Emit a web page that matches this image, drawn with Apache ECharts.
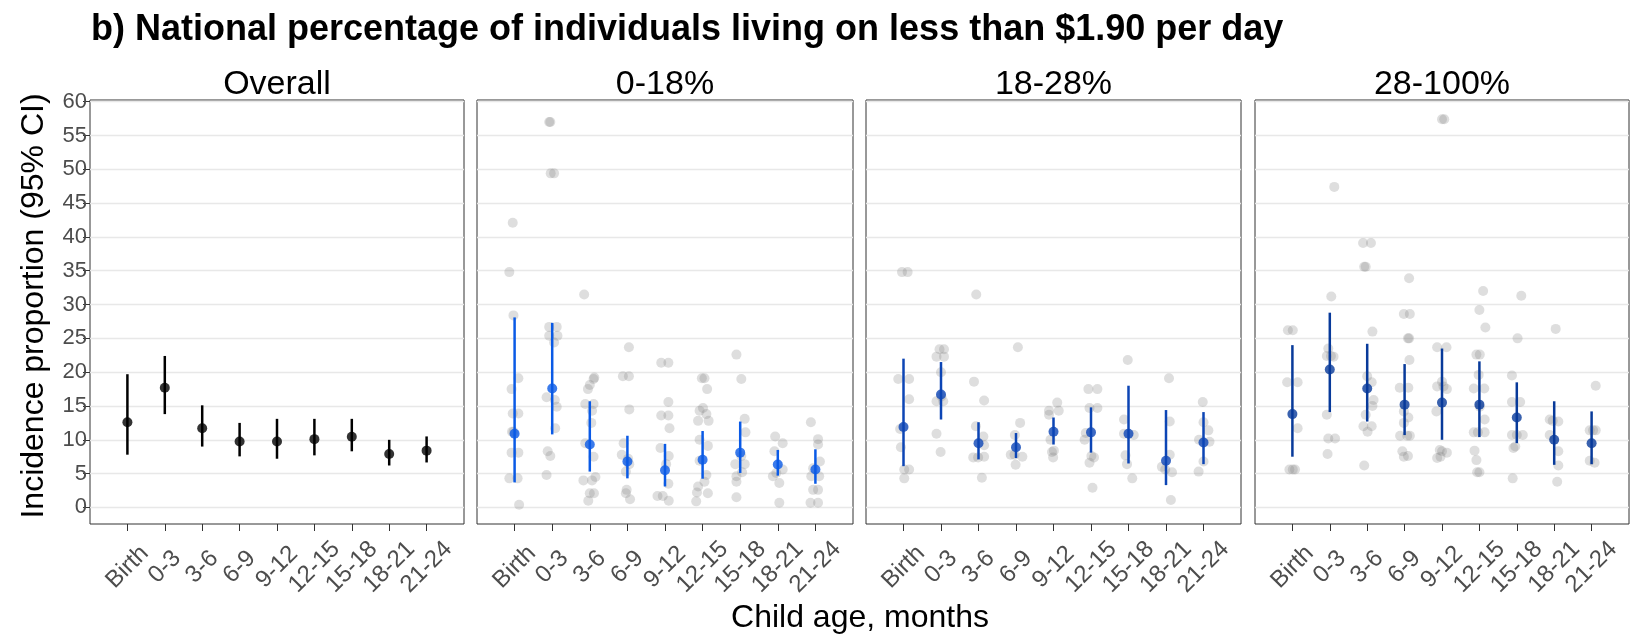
<!DOCTYPE html>
<html><head><meta charset="utf-8">
<script src="https://cdn.jsdelivr.net/npm/echarts@6/dist/echarts.min.js"></script>
<style>html,body{margin:0;padding:0;background:#fff}#c{width:1639px;height:636px}</style>
</head><body><div id="c"></div>
<script>
// ---------- data ----------
const categories = ['Birth','0-3','3-6','6-9','9-12','12-15','15-18','18-21','21-24'];
const panelTitles = ['Overall','0-18%','18-28%','28-100%'];
const yTickValues = [0,5,10,15,20,25,30,35,40,45,50,55,60];

const overallMean = [12.6, 17.7, 11.7, 9.75, 9.75, 10.1, 10.45, 7.9, 8.4];
const overallLow  = [7.8, 13.8, 9.0, 7.55, 7.2, 7.7, 8.3, 6.2, 6.65];
const overallHigh = [19.7, 22.4, 15.1, 12.5, 13.1, 13.1, 13.1, 10.0, 10.5];

const low18Mean = [10.9, 17.6, 9.3, 6.8, 5.5, 7.05, 8.1, 6.35, 5.6];
const low18Low  = [3.7, 10.8, 5.3, 4.3, 3.1, 4.25, 5.1, 4.7, 3.5];
const low18High = [28.1, 27.3, 15.7, 10.6, 9.4, 11.3, 12.7, 8.5, 8.6];

const mid28Mean = [11.9, 16.7, 9.5, 8.9, 11.2, 11.1, 10.9, 6.9, 9.6];
const mid28Low  = [6.1, 13.0, 7.1, 7.3, 9.3, 8.1, 6.5, 3.3, 6.4];
const mid28High = [22.0, 21.5, 12.6, 11.0, 13.3, 14.8, 18.0, 14.4, 14.1];

const high100Mean = [13.8, 20.4, 17.6, 15.2, 15.5, 15.2, 13.3, 10.0, 9.5];
const high100Low  = [7.5, 14.1, 12.7, 10.7, 10.0, 10.4, 9.5, 6.3, 6.4];
const high100High = [24.0, 28.8, 24.2, 21.2, 23.5, 21.6, 18.5, 15.7, 14.2];

// study-level estimates: [category index, jitter (category units), value]
const low18Points = [
 [0,-0.05,42.1],[0,-0.14,34.8],[0,-0.03,28.4],[0,0.10,19.1],[0,-0.08,17.5],[0,-0.05,13.9],[0,0.10,13.9],[0,-0.07,11.2],[0,-0.03,11.2],[0,-0.08,8.1],[0,0.10,8.1],[0,-0.14,4.3],[0,0.08,4.3],[0,0.12,0.4],
 [1,-0.08,57.0],[1,-0.05,57.0],[1,-0.04,49.4],[1,0.05,49.4],[1,-0.08,26.7],[1,0.12,26.7],[1,-0.08,25.4],[1,0.14,25.4],[1,0.05,24.4],[1,-0.15,16.3],[1,0.07,15.9],[1,0.12,14.9],[1,0.08,11.7],[1,-0.12,8.3],[1,-0.05,7.6],[1,-0.15,4.8],
 [2,-0.15,31.5],[2,0.12,19.2],[2,0.10,19.0],[2,0,18.1],[2,-0.05,17.5],[2,-0.12,15.3],[2,0.10,15.3],[2,0.06,14.3],[2,0.04,12.5],[2,-0.12,9.5],[2,0.10,7.5],[2,0.15,4.5],[2,0.06,4.0],[2,-0.17,4.0],[2,0,2.1],[2,0.11,2.1],[2,-0.04,1.0],
 [3,0.04,23.7],[3,-0.12,19.4],[3,0.04,19.4],[3,0.05,14.5],[3,-0.10,9.5],[3,-0.15,7.8],[3,0.05,6.4],[3,-0.04,5.3],[3,0.02,7.2],[3,-0.02,2.6],[3,-0.04,2.1],[3,0.07,1.2],
 [4,-0.10,21.4],[4,0.09,21.4],[4,0.09,15.6],[4,-0.10,13.6],[4,0.09,13.6],[4,0.12,11.7],[4,-0.12,8.8],[4,0.10,7.6],[4,0.03,6.4],[4,0.09,3.5],[4,-0.20,1.7],[4,-0.06,1.7],[4,0.10,1.0],
 [5,-0.02,19.1],[5,0.05,19.1],[5,0.12,17.5],[5,0.01,14.7],[5,-0.08,14.3],[5,0.10,13.8],[5,-0.12,12.8],[5,0.16,12.8],[5,-0.08,10.0],[5,0.14,9.1],[5,-0.08,6.9],[5,0.10,4.8],[5,0.05,3.8],[5,-0.12,3.1],[5,-0.15,2.2],[5,0.14,2.1],[5,-0.17,0.9],
 [6,-0.10,22.6],[6,0.03,19.0],[6,0.12,13.1],[6,0.14,11.1],[6,0.03,7.6],[6,-0.13,6.4],[6,0.12,6.4],[6,0.05,5.2],[6,-0.10,4.6],[6,-0.10,3.8],[6,-0.10,1.5],
 [7,-0.07,10.5],[7,0.13,9.5],[7,-0.09,8.3],[7,0.13,5.6],[7,-0.04,5.1],[7,-0.13,4.6],[7,0.04,3.6],[7,0.04,0.7],
 [8,-0.12,12.6],[8,0.07,10.1],[8,0.07,9.3],[8,0.12,6.8],[8,-0.06,5.8],[8,0.10,4.6],[8,-0.11,4.6],[8,0.07,2.6],[8,-0.06,2.6],[8,-0.13,0.7],[8,0.07,0.7]
];
const mid28Points = [
 [0,-0.04,34.8],[0,0.11,34.8],[0,-0.14,19.0],[0,0.15,19.0],[0,0.15,16.0],[0,-0.09,11.6],[0,-0.07,8.9],[0,0.02,5.6],[0,0.15,5.6],[0,0.02,4.3],
 [1,-0.04,23.4],[1,0.08,23.4],[1,-0.12,22.3],[1,0.08,22.3],[1,0,20.0],[1,-0.12,15.7],[1,0.01,16.4],[1,0.06,15.7],[1,-0.12,10.9],[1,-0.01,8.2],
 [2,-0.06,31.5],[2,-0.12,18.6],[2,0.15,15.8],[2,-0.07,12.0],[2,0.13,10.5],[2,0.15,9.2],[2,-0.14,7.4],[2,-0.01,7.4],[2,0.15,7.5],[2,0.09,4.4],
 [3,0.05,23.7],[3,0.11,12.5],[3,-0.03,10.7],[3,-0.14,7.8],[3,-0.04,7.8],[3,0.17,7.5],[3,-0.01,6.3],
 [4,0.10,15.5],[4,-0.12,14.3],[4,0.14,14.3],[4,-0.12,13.7],[4,-0.08,10.0],[4,0.01,8.4],[4,-0.04,8.2],[4,-0.01,7.4],
 [5,-0.07,17.5],[5,0.17,17.5],[5,-0.04,14.7],[5,0.17,14.7],[5,-0.14,11.0],[5,-0.17,10.0],[5,0.01,7.6],[5,0.08,7.4],[5,-0.04,6.6],[5,0.04,2.9],
 [6,-0.02,21.8],[6,-0.12,13.0],[6,-0.12,10.9],[6,0.14,10.7],[6,-0.08,7.7],[6,-0.04,6.4],[6,0.10,4.3],
 [7,0.08,19.1],[7,0.10,12.7],[7,0.10,7.8],[7,-0.11,6.0],[7,0.16,5.2],[7,-0.02,5.6],[7,0.13,1.1],
 [8,-0.02,15.6],[8,0,12.6],[8,0.13,11.4],[8,-0.12,10.0],[8,0.16,9.7],[8,0,6.8],[8,-0.13,5.3]
];
const high100Points = [
 [0,-0.12,26.2],[0,0.01,26.2],[0,-0.14,18.5],[0,0.14,18.5],[0,0.14,11.7],[0,-0.08,5.6],[0,0.01,5.6],[0,0.07,5.6],
 [1,0.12,47.4],[1,0.04,31.2],[1,-0.04,23.5],[1,0.03,22.4],[1,-0.08,22.4],[1,0.10,22.3],[1,-0.08,13.7],[1,-0.04,10.2],[1,0.14,10.2],[1,-0.06,7.9],
 [2,-0.11,39.1],[2,0.10,39.1],[2,-0.08,35.6],[2,-0.04,35.6],[2,0.14,26.0],[2,0,19.4],[2,0.12,18.5],[2,0.17,15.9],[2,0.14,15.0],[2,-0.04,13.7],[2,-0.10,12.0],[2,0.12,12.0],[2,0.01,11.2],[2,-0.08,6.2],
 [3,0.12,33.9],[3,-0.02,28.6],[3,0.14,28.6],[3,0.09,25.0],[3,0.12,25.0],[3,0.13,21.8],[3,-0.13,17.7],[3,0.10,17.7],[3,-0.02,14.2],[3,0.10,13.3],[3,-0.02,12.5],[3,-0.12,10.6],[3,0.07,10.6],[3,0.14,10.6],[3,-0.06,8.3],[3,0.09,7.6],[3,-0.02,7.5],
 [4,0,57.4],[4,0.06,57.4],[4,-0.13,23.7],[4,0.12,23.7],[4,0,18.6],[4,0.04,17.9],[4,-0.13,17.9],[4,0.13,17.5],[4,-0.15,14.2],[4,-0.06,8.5],[4,0,8.3],[4,0.13,8.1],[4,-0.13,7.3],[4,-0.04,7.5],
 [5,0.10,32.0],[5,0,29.2],[5,0.16,26.6],[5,-0.08,22.6],[5,0.01,22.6],[5,-0.02,19.6],[5,-0.15,17.6],[5,0.13,17.6],[5,0.01,14.9],[5,0.14,13.0],[5,-0.15,11.1],[5,-0.04,11.1],[5,0.14,11.1],[5,-0.13,8.4],[5,-0.08,7.0],[5,-0.06,5.2],[5,0,5.2],
 [6,0.12,31.3],[6,0.02,25.0],[6,-0.13,19.5],[6,0.09,15.6],[6,-0.13,15.6],[6,-0.13,10.7],[6,0,10.7],[6,0.16,10.7],[6,-0.04,9.0],[6,-0.09,8.8],[6,-0.11,4.3],
 [7,0.04,26.4],[7,-0.12,13.0],[7,0.11,12.7],[7,-0.04,12.8],[7,-0.12,10.7],[7,0.11,8.3],[7,0.11,6.2],[7,0.08,3.8],
 [8,0.11,18.0],[8,0.11,11.4],[8,-0.05,11.4],[8,0.04,11.4],[8,-0.05,6.9],[8,0.08,6.6]
];

// ---------- layout / style ----------
const FONT = '"Liberation Sans", Arial, Helvetica, sans-serif';
const panelBoxes = [[90,374],[477,376],[866,375],[1255,374]];
const panelColors = ['#000000','#0a5ae6','#0c45b5','#083a9a'];
const panels = [
  {mean: overallMean, low: overallLow, high: overallHigh, points: []},
  {mean: low18Mean, low: low18Low, high: low18High, points: low18Points},
  {mean: mid28Mean, low: mid28Low, high: mid28High, points: mid28Points},
  {mean: high100Mean, low: high100Low, high: high100High, points: high100Points}
];
const catIdx = categories.map((c, i) => i);

const grids = [], xAxes = [], yAxes = [], series = [], graphics = [];
panelBoxes.forEach(([left, width], i) => {
  grids.push({left: left, width: width, top: 100, height: 424, show: true,
    borderColor: '#333', borderWidth: 1, backgroundColor: 'transparent'});
  xAxes.push({gridIndex: i, type: 'value', min: -1, max: 9,
    splitLine: {show: false},
    axisLine: {show: false, onZero: false},
    axisTick: {show: true, length: 7, lineStyle: {color: '#333', width: 1}, customValues: catIdx},
    axisLabel: {customValues: catIdx, formatter: v => categories[v], rotate: 45,
      align: 'center', verticalAlign: 'middle', margin: 43,
      fontSize: 24, color: '#4d4d4d', fontFamily: FONT}
  });
  yAxes.push({gridIndex: i, type: 'value', min: -2.45, max: 60.25,
    axisLine: {show: false, onZero: false},
    splitLine: {show: true, lineStyle: {color: '#e8e8e8', width: 1.4}},
    axisTick: {show: i === 0, length: 7, lineStyle: {color: '#333', width: 1}, customValues: yTickValues},
    axisLabel: {show: i === 0, customValues: yTickValues, fontSize: 22, color: '#4d4d4d',
      margin: 3, fontFamily: FONT}
  });
  const p = panels[i];
  if (p.points.length) {
    series.push({type: 'scatter', xAxisIndex: i, yAxisIndex: i, silent: true,
      symbol: 'circle', symbolSize: 10,
      itemStyle: {color: 'rgba(128,128,128,0.33)'},
      data: p.points.map(d => [d[0] + d[1], d[2]]), z: 2});
  }
  series.push({type: 'custom', xAxisIndex: i, yAxisIndex: i, silent: true,
    data: catIdx.map(k => [k, p.low[k], p.high[k]]),
    encode: {x: 0, y: [1, 2]},
    renderItem: (params, api) => {
      const a = api.coord([api.value(0), api.value(1)]);
      const b = api.coord([api.value(0), api.value(2)]);
      return {type: 'line', shape: {x1: a[0], y1: a[1], x2: b[0], y2: b[1]},
        style: {stroke: panelColors[i], lineWidth: 2.5}};
    }, z: 3});
  series.push({type: 'scatter', xAxisIndex: i, yAxisIndex: i, silent: true,
    symbol: 'circle', symbolSize: 10,
    itemStyle: {color: panelColors[i]},
    data: catIdx.map(k => [k, p.mean[k]]), z: 4});
  graphics.push({type: 'text', x: left + width / 2, y: 85,
    style: {text: panelTitles[i], font: '34px ' + FONT, fill: '#000',
      textAlign: 'center', textVerticalAlign: 'middle'}});
});

graphics.push({type: 'text', x: 91, y: 30,
  style: {text: 'b) National percentage of individuals living on less than $1.90 per day',
    font: 'bold 36px ' + FONT, fill: '#000', textAlign: 'left', textVerticalAlign: 'middle'}});
graphics.push({type: 'text', x: 34, y: 306, rotation: Math.PI / 2,
  style: {text: 'Incidence proportion (95% CI)', font: '32px ' + FONT, fill: '#000',
    textAlign: 'center', textVerticalAlign: 'middle'}});
graphics.push({type: 'text', x: 860, y: 618,
  style: {text: 'Child age, months', font: '32px ' + FONT, fill: '#000',
    textAlign: 'center', textVerticalAlign: 'middle'}});

const chart = echarts.init(document.getElementById('c'), null, {renderer: 'canvas'});
chart.setOption({
  animation: false,
  backgroundColor: '#fff',
  grid: grids, xAxis: xAxes, yAxis: yAxes, series: series, graphic: graphics
});
</script>
</body></html>
